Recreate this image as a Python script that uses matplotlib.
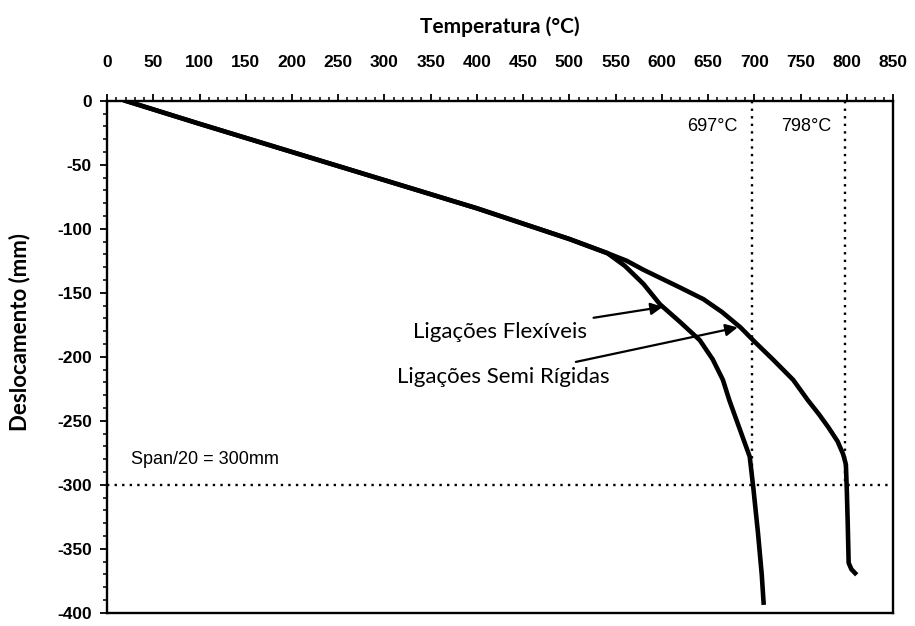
import matplotlib.pyplot as plt
from matplotlib.ticker import MultipleLocator

plt.rcParams['axes.unicode_minus'] = False

# temperature (C) vs mid-span displacement (mm)
temp_flex = [20, 100, 200, 300, 400, 450, 500, 541, 560, 580, 598, 620, 641,
             655, 666, 673, 684, 695, 699, 704, 708, 710]
disp_flex = [0, -18, -40, -62, -84, -96, -108, -119, -129, -143, -159, -173, -187,
             -202, -218, -234, -256, -278, -303, -338, -370, -392]

temp_semi = [20, 100, 200, 300, 400, 450, 500, 541, 562, 580, 600, 620, 645,
             665, 685, 700, 720, 742, 758, 770, 780, 790, 796, 799, 800, 801,
             802, 805, 809]
disp_semi = [0, -18, -40, -62, -84, -96, -108, -119, -125, -132, -139, -146, -155,
             -165, -177, -188, -202, -218, -234, -245, -255, -266, -276, -284, -304, -330,
             -361, -366, -369]

limit_disp = -300          # span/20
crit_temps = [697, 798]

arial = ['Liberation Sans', 'DejaVu Sans']
calib = ['Lato', 'DejaVu Sans']

fig = plt.figure(figsize=(9.15, 6.26), dpi=100)
ax = fig.add_axes([0.117, 0.021, 0.859, 0.818])

ax.plot(temp_flex, disp_flex, color='black', lw=3.3, solid_joinstyle='round')
ax.plot(temp_semi, disp_semi, color='black', lw=3.3, solid_joinstyle='round')

# limit lines
ax.plot([0, 850], [limit_disp, limit_disp], color='black', lw=1.7, ls=(0, (1, 2.2)))
for t in crit_temps:
    ax.plot([t, t], [0, limit_disp], color='black', lw=1.7, ls=(0, (1, 2.2)))
    ax.text(t - 15, -20, '%d°C' % t, ha='right', va='center', fontsize=13,
            family=arial)

ax.text(26, -280, 'Span/20 = 300mm', fontsize=13, family=arial, va='center')

# labels with arrows
arrow = dict(arrowstyle='-|>', color='black', lw=1.6, mutation_scale=18,
             shrinkA=9, shrinkB=0)
ax.annotate('Ligações Flexíveis', xy=(601, -161), xytext=(519, -181),
            fontsize=16, family=calib, ha='right', va='center', arrowprops=arrow)
ax.annotate('Ligações Semi Rígidas', xy=(682, -177), xytext=(544, -216),
            fontsize=16, family=calib, ha='right', va='center', arrowprops=arrow)

ax.set_xlim(0, 850)
ax.set_ylim(-400, 0)
ax.xaxis.tick_top()
ax.xaxis.set_label_position('top')
ax.xaxis.set_major_locator(MultipleLocator(50))
ax.xaxis.set_minor_locator(MultipleLocator(10))
ax.yaxis.set_major_locator(MultipleLocator(50))
ax.yaxis.set_minor_locator(MultipleLocator(10))
ax.tick_params(which='major', direction='out', length=5, width=1.3, labelsize=12.5)
ax.tick_params(which='minor', direction='out', length=3, width=1.1)
ax.tick_params(axis='x', pad=17)
ax.tick_params(axis='y', pad=6)
for lab in ax.get_xticklabels() + ax.get_yticklabels():
    lab.set_family(arial)
    lab.set_fontweight('bold')
for s in ax.spines.values():
    s.set_linewidth(1.7)

ax.set_xlabel('Temperatura (°C)', fontsize=15, fontweight='bold', family=calib, labelpad=16)
ax.set_ylabel('Deslocamento (mm)', fontsize=16, fontweight='bold', family=calib)
ax.yaxis.set_label_coords(-0.097, 0.549)

fig.savefig('out.png', dpi=100)
